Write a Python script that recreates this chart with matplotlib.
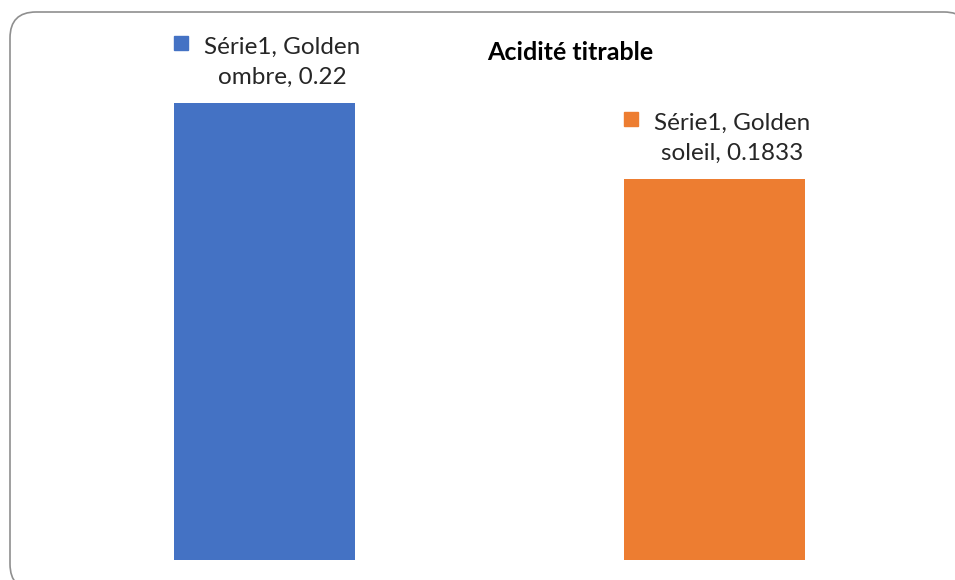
import matplotlib.pyplot as plt
from matplotlib.patches import FancyBboxPatch
from matplotlib.transforms import offset_copy

# donnees
varietes = ["Golden ombre", "Golden soleil"]
acidite = [0.22, 0.1833]
etiquettes = ["0.22", "0.1833"]
serie = "Série1"
couleurs = ["#4472C4", "#ED7D31"]
titre = "Acidité titrable"

plt.rcParams['font.family'] = ['Lato', 'DejaVu Sans']

fig = plt.figure(figsize=(9.55, 5.8), dpi=100)

# cadre arrondi autour du graphique
fond = fig.add_axes([0, 0, 1, 1])
fond.set_xlim(0, 955)
fond.set_ylim(580, 0)
fond.axis('off')
fond.add_patch(FancyBboxPatch((10, 12), 960, 578,
                              boxstyle="round,pad=0,rounding_size=26",
                              facecolor='white', edgecolor='#8f8f8f', linewidth=1.2))

ax = fig.add_axes([0.04136, 0.03448, 0.9424, 0.8953])
ax.set_xlim(-0.5, 1.5)
ax.set_ylim(0, 0.25)
ax.axis('off')

x = range(len(varietes))
ax.bar(x, acidite, width=0.402, color=couleurs)

# etiquettes de donnees avec leur petit carre de couleur
for i in x:
    texte = offset_copy(ax.transData, fig=fig, x=18, y=41, units='dots')
    ax.text(i, acidite[i], f"{serie}, {varietes[i].split()[0]}\n{varietes[i].split()[1]}, {etiquettes[i]}",
            transform=texte, ha='center', va='center', multialignment='center',
            fontsize=17.5, color='#262626', linespacing=1.55)
    carre = offset_copy(ax.transData, fig=fig, x=-83, y=60.5, units='dots')
    ax.plot([i], [acidite[i]], marker='s', markersize=9.4, color=couleurs[i],
            transform=carre, clip_on=False)

fig.text(570 / 955, 1 - 52 / 580, titre, ha='center', va='center',
         fontsize=18, fontweight='bold', color='#000000')

fig.savefig('out.png', dpi=100)
